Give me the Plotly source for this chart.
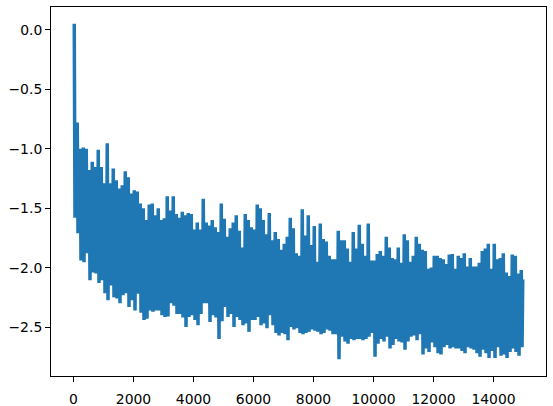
import plotly.graph_objects as go

# Upper and lower envelope of the noisy series, read every 100 steps (step 0 .. 14900)
upper = [
    0.05, -0.78, -1.00, -0.99, -1.00, -1.18, -1.11, -1.155, -1.01, -1.155,
    -1.29, -0.955, -1.29, -1.166, -1.266, -1.334, -1.308, -1.19, -1.24, -1.376,
    -1.35, -1.36, -1.46, -1.50, -1.60, -1.47, -1.46, -1.56, -1.50, -1.60,
    -1.585, -1.40, -1.52, -1.40, -1.55, -1.58, -1.53, -1.56, -1.54, -1.55,
    -1.68, -1.62, -1.68, -1.42, -1.62, -1.645, -1.60, -1.66, -1.70, -1.46,
    -1.59, -1.74, -1.67, -1.62, -1.56, -1.69, -1.83, -1.55, -1.60, -1.66,
    -1.68, -1.47, -1.50, -1.60, -1.72, -1.54, -1.77, -1.70, -1.76, -1.85,
    -1.80, -1.74, -1.58, -1.67, -1.88, -1.90, -1.51, -1.73, -1.56, -1.81,
    -1.65, -1.95, -1.63, -1.76, -1.78, -1.90, -1.93, -1.93, -1.69, -1.77,
    -1.77, -1.84, -1.95, -1.70, -1.84, -1.64, -1.80, -1.90, -1.63, -1.94,
    -1.94, -1.885, -1.86, -1.90, -1.74, -1.83, -1.92, -1.93, -1.83, -1.96,
    -1.72, -1.77, -1.95, -1.90, -1.74, -1.80, -1.85, -1.86, -2.01, -2.00,
    -1.90, -1.90, -1.92, -1.93, -1.97, -1.89, -1.885, -2.01, -1.90, -1.92,
    -1.88, -1.99, -1.92, -1.99, -1.99, -1.96, -1.86, -1.84, -1.80, -2.01,
    -1.80, -1.93, -1.92, -1.88, -2.04, -2.07, -1.89, -1.90, -2.05, -2.02,
]
lower = [
    -1.58, -1.71, -1.94, -1.955, -1.88, -2.107, -2.04, -2.05, -2.13, -2.107,
    -2.216, -2.275, -2.15, -2.25, -2.26, -2.30, -2.233, -2.216, -2.33, -2.275,
    -2.36, -2.22, -2.38, -2.44, -2.43, -2.36, -2.37, -2.36, -2.36, -2.40,
    -2.415, -2.41, -2.30, -2.32, -2.39, -2.39, -2.42, -2.50, -2.415, -2.40,
    -2.44, -2.485, -2.39, -2.30, -2.30, -2.457, -2.40, -2.42, -2.60, -2.45,
    -2.33, -2.415, -2.39, -2.50, -2.415, -2.44, -2.485, -2.47, -2.54, -2.44,
    -2.44, -2.415, -2.485, -2.47, -2.51, -2.40, -2.485, -2.55, -2.57, -2.55,
    -2.56, -2.61, -2.50, -2.52, -2.51, -2.55, -2.56, -2.55, -2.54, -2.52,
    -2.53, -2.54, -2.56, -2.55, -2.52, -2.53, -2.56, -2.56, -2.77, -2.58,
    -2.62, -2.64, -2.60, -2.61, -2.60, -2.60, -2.61, -2.60, -2.58, -2.55,
    -2.75, -2.64, -2.60, -2.62, -2.58, -2.68, -2.65, -2.60, -2.62, -2.63,
    -2.69, -2.62, -2.58, -2.57, -2.61, -2.56, -2.73, -2.68, -2.71, -2.63,
    -2.67, -2.72, -2.73, -2.67, -2.65, -2.68, -2.67, -2.68, -2.68, -2.70,
    -2.72, -2.67, -2.68, -2.69, -2.72, -2.75, -2.69, -2.72, -2.76, -2.70,
    -2.76, -2.67, -2.74, -2.73, -2.76, -2.71, -2.68, -2.71, -2.74, -2.67,
]
last_step = 14999
last_value = -2.10

step_size = 100
x_tick_vals = [0, 2000, 4000, 6000, 8000, 10000, 12000, 14000]
y_tick_vals = [0.0, -0.5, -1.0, -1.5, -2.0, -2.5]

# Within each 100-step bin the series swings between its upper and lower reading
xs, ys = [], []
for i, (u, l) in enumerate(zip(upper, lower)):
    s = i * step_size
    xs += [s, s + 25, s + 50, s + 75]
    ys += [u, l, u, l]
xs.append(last_step)
ys.append(last_value)

xmin, xmax = 0, last_step
xpad = 0.05 * (xmax - xmin)
ymin, ymax = min(ys), max(ys)
ypad = 0.05 * (ymax - ymin)

fig = go.Figure(go.Scatter(x=xs, y=ys, mode="lines",
                           line=dict(color="#1f77b4", width=2)))

axis_common = dict(showgrid=False, zeroline=False, showline=True, linecolor="black",
                   linewidth=1, mirror=True, ticks="outside", ticklen=5, tickwidth=1,
                   tickcolor="black", automargin=False,
                   tickfont=dict(family="DejaVu Sans", size=13.9, color="black"))
fig.update_xaxes(range=[xmin - xpad, xmax + xpad], tickvals=x_tick_vals, tickformat="d",
                 ticklabelstandoff=5, **axis_common)
fig.update_yaxes(range=[ymin - ypad, ymax + ypad], tickvals=y_tick_vals, tickformat=".1f",
                 **axis_common)
fig.update_layout(width=553, height=406, margin=dict(l=51, r=7, t=7, b=30),
                  paper_bgcolor="white", plot_bgcolor="white", showlegend=False)
fig.write_html("out.html")
